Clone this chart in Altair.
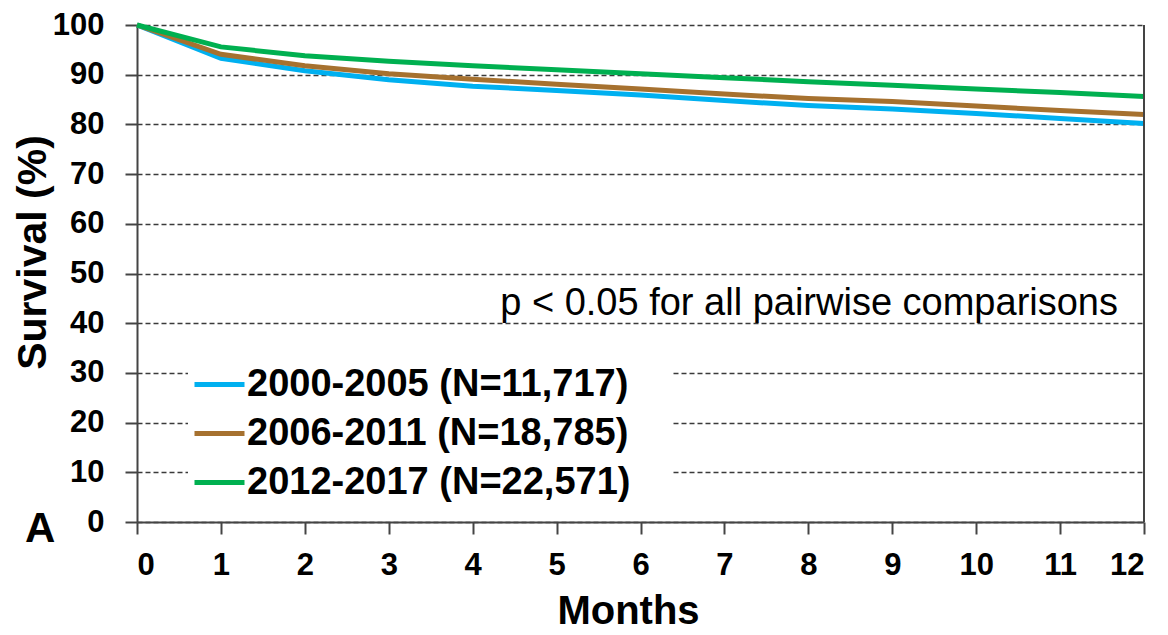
import altair as alt
import pandas as pd

months = list(range(13))
s_2000_2005 = [100, 93.3, 90.8, 89.0, 87.7, 86.8, 85.9, 84.8, 83.8, 83.1, 82.2, 81.2, 80.2]
s_2006_2011 = [100, 94.1, 91.8, 90.2, 89.1, 88.1, 87.1, 86.1, 85.2, 84.6, 83.7, 82.8, 82.0]
s_2012_2017 = [100, 95.6, 93.8, 92.7, 91.8, 91.0, 90.2, 89.4, 88.6, 87.9, 87.1, 86.4, 85.6]
groups = ["2000-2005 (N=11,717)", "2006-2011 (N=18,785)", "2012-2017 (N=22,571)"]
colors = ["#00B0F0", "#A6712F", "#00B050"]
y_ticks = list(range(0, 101, 10))
x_ticks = months
p_text = "p < 0.05 for all pairwise comparisons"
panel_label = "A"

rows = []
for g, vals in zip(groups, [s_2000_2005, s_2006_2011, s_2012_2017]):
    for m, v in zip(months, vals):
        rows.append({"month": m, "survival": v, "group": g})
df = pd.DataFrame(rows)

FONT = "Liberation Sans"
AX = "#444444"

x_enc = alt.X(
    "month:Q",
    scale=alt.Scale(domain=[0, 12], nice=False, zero=False),
    axis=alt.Axis(
        values=x_ticks, title="Months", grid=False, format="d",
        labelFont=FONT, labelFontSize=31, labelFontWeight="bold", labelColor="black",
        labelPadding=16, tickSize=12, tickColor=AX, tickWidth=2,
        domainColor=AX, domainWidth=2,
        titleFont=FONT, titleFontSize=40, titleFontWeight="bold", titleColor="black",
        titleX=491, titleY=101, titleBaseline="alphabetic",
    ),
)
y_enc = alt.Y(
    "survival:Q",
    scale=alt.Scale(domain=[0, 100], nice=False),
    axis=alt.Axis(
        values=y_ticks, title="Survival (%)", grid=True,
        gridColor="#3a3a3a", gridDash=[5, 3], gridWidth=1.6,
        labelFont=FONT, labelFontSize=31, labelFontWeight="bold", labelColor="black",
        labelPadding=21, tickSize=12, tickColor=AX, tickWidth=2,
        domainColor=AX, domainWidth=2,
        titleFont=FONT, titleFontSize=41, titleFontWeight="bold", titleColor="black",
        titleAngle=270, titleX=-104, titleY=227, titleBaseline="middle", titleAlign="center",
    ),
)

lines = alt.Chart(df).mark_line(strokeWidth=5).encode(
    x=x_enc,
    y=y_enc,
    color=alt.Color(
        "group:N",
        scale=alt.Scale(domain=groups, range=colors),
        legend=alt.Legend(
            title="M", titleOrient="right", titleColor="white", titleFont=FONT,
            titleFontSize=37, titleFontWeight="bold", titlePadding=8,
            orient="none", legendX=51, legendY=328,
            fillColor="white", padding=4, strokeColor=None,
            symbolType="stroke", symbolSize=2500, symbolStrokeWidth=5,
            labelFont=FONT, labelFontSize=38, labelFontWeight="bold", labelColor="black",
            labelOffset=0, rowPadding=2, labelLimit=1000,
        ),
    ),
    order=alt.Order("month:Q"),
)

border = alt.Chart(pd.DataFrame({"month": [12], "lo": [0], "hi": [100]})).mark_rule(
    color=AX, strokeWidth=2
).encode(x="month:Q", y="lo:Q", y2="hi:Q")

ptxt = alt.Chart(pd.DataFrame({"t": [p_text]})).mark_text(
    font=FONT, fontSize=38, color="black", align="right", baseline="alphabetic"
).encode(text="t:N", x=alt.value(981), y=alt.value(290))

alabel = alt.Chart(pd.DataFrame({"t": [panel_label]})).mark_text(
    font=FONT, fontSize=42, fontWeight="bold", color="black", align="left", baseline="alphabetic"
).encode(text="t:N", x=alt.value(-112), y=alt.value(517))

chart = alt.layer(lines, border, ptxt, alabel).properties(
    width=1007, height=497,
    autosize=alt.AutoSizeParams(type="none"),
    padding={"left": 129, "top": 17, "right": 16, "bottom": 110},
    background="white",
).configure_view(stroke=None)

chart.save("out.html", embed_options={"renderer": "svg", "actions": False})
